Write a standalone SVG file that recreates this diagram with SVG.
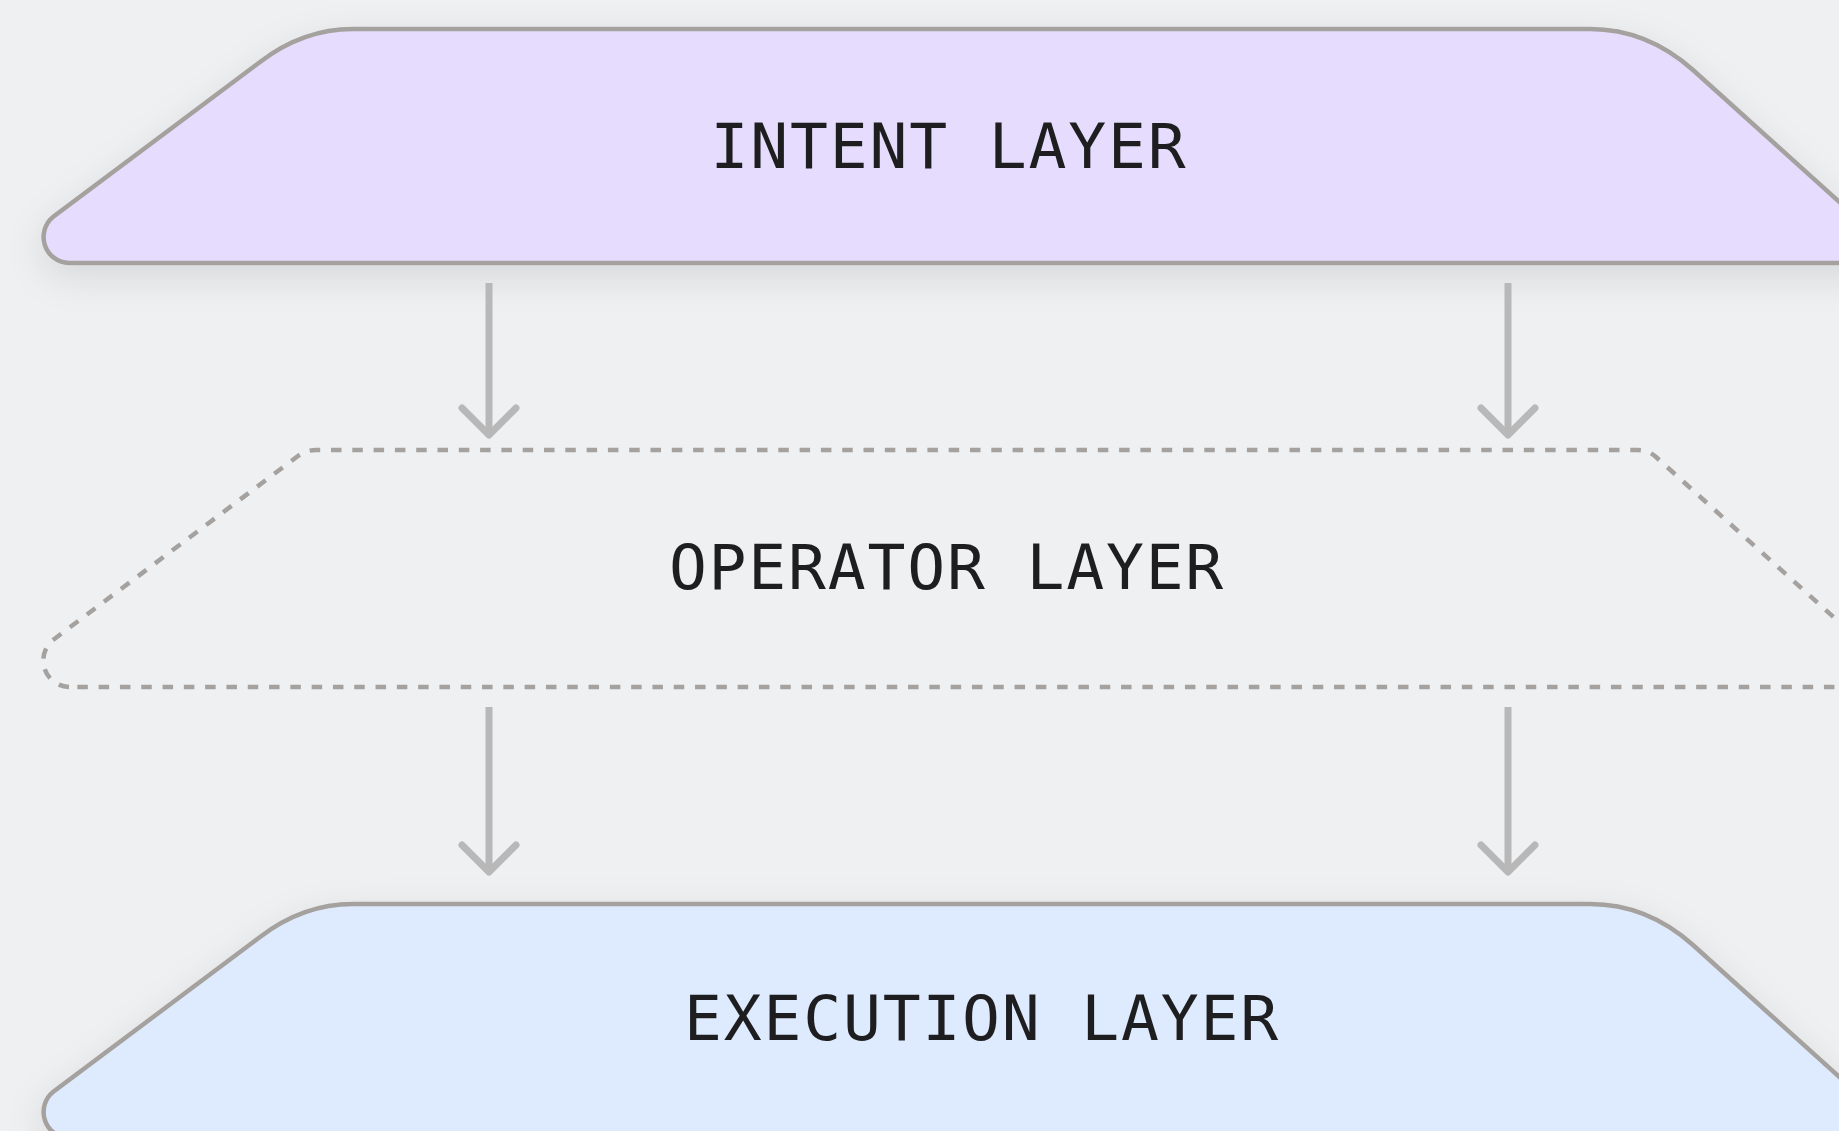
<svg xmlns="http://www.w3.org/2000/svg" width="1839" height="1131" viewBox="0 0 1839 1131">
  <defs>
    <filter id="shadow" x="-10%" y="-40%" width="120%" height="190%">
      <feDropShadow dx="0" dy="12" stdDeviation="18" flood-color="#000" flood-opacity="0.1"/>
    </filter>
    <path id="layerShape" d="M 69 263 A 26 26 0 0 1 53.6 216.5 L 260 62 Q 303 29 353 29 L 1590 29 Q 1647 29 1693 70 L 1907 263 Z"/>
  </defs>
  <style>
    .layer { stroke: #a5a19f; stroke-width: 4.5; stroke-linejoin: round; }
    .intent { fill: #e6ddfe; }
    .execution { fill: #deebfe; }
    .operator { fill: none; stroke: #a5a19f; stroke-width: 4.5; stroke-dasharray: 10.5 10.8; }
    .label { font-family: "DejaVu Sans Mono", "Liberation Mono", monospace; font-size: 63px; letter-spacing: 1.8px; fill: #1e1e20; text-anchor: middle; }
    .shaft { stroke: #b8b8b8; stroke-width: 7; fill: none; }
    .head { stroke: #b8b8b8; stroke-width: 7; fill: none; stroke-linecap: round; stroke-linejoin: round; }
  </style>
  <rect width="1839" height="1131" fill="#eef0f2"/>

  <g id="intent-layer">
    <use href="#layerShape" class="layer intent" filter="url(#shadow)"/>
    <text class="label" x="949" y="168">INTENT LAYER</text>
  </g>

  <g id="operator-layer">
    <path class="operator" d="M 69 687 A 26.5 26.5 0 0 1 53 640 L 298 456 Q 306 450 316 450 L 1638 450 Q 1648 450 1656 457 L 1911 687 Z"/>
    <text class="label" x="947" y="589">OPERATOR LAYER</text>
  </g>

  <g id="execution-layer">
    <use href="#layerShape" class="layer execution" filter="url(#shadow)" transform="translate(0 875)"/>
    <text class="label" x="982" y="1040">EXECUTION LAYER</text>
  </g>

  <g id="connectors">
    <path class="shaft" d="M489 283 V432"/>
    <path class="head" d="M462 408 L489 435 L516 408"/>
    <path class="shaft" d="M1508 283 V432"/>
    <path class="head" d="M1481 408 L1508 435 L1535 408"/>
    <path class="shaft" d="M489 707 V869"/>
    <path class="head" d="M462 845 L489 872 L516 845"/>
    <path class="shaft" d="M1508 707 V869"/>
    <path class="head" d="M1481 845 L1508 872 L1535 845"/>
  </g>
</svg>
